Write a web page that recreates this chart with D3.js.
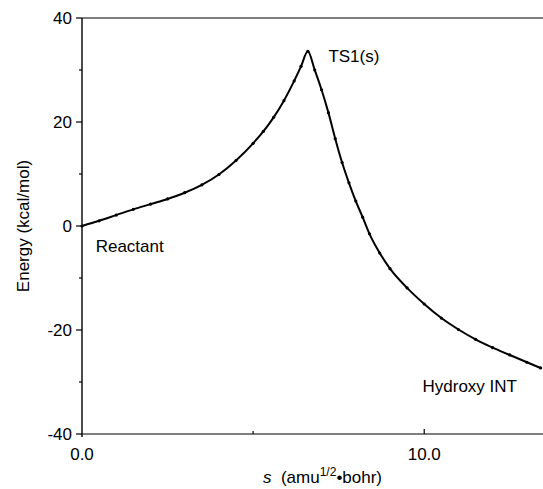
<!DOCTYPE html>
<html><head><meta charset="utf-8">
<script src="https://cdn.jsdelivr.net/npm/d3@7"></script>
<style>
html,body{margin:0;padding:0;background:#fff;}
svg{display:block;font-family:"Liberation Sans",Arial,Helvetica,sans-serif;}
</style></head>
<body><svg id="c" width="543" height="489"></svg>
<script>
const sValues = [0, 0.5, 1.0, 1.5, 2.0, 2.5, 3.0, 3.5, 4.0, 4.5, 5.0, 5.3, 5.6, 5.9, 6.2, 6.4, 6.6,
  6.8, 7.0, 7.2, 7.4, 7.6, 7.8, 8.0, 8.2, 8.4, 8.7, 9.0, 9.5, 10.0, 10.5, 11.0, 11.5, 12.0, 12.5, 13.0, 13.4];
const energyValues = [0, 1.0, 2.1, 3.2, 4.2, 5.2, 6.4, 7.9, 9.9, 12.6, 15.9, 18.2, 20.9, 24.1, 27.9, 30.7, 33.6,
  30.0, 26.2, 21.8, 16.8, 12.2, 8.3, 4.8, 1.7, -1.5, -5.2, -8.2, -11.9, -15.0, -17.7, -19.9, -21.8, -23.4, -24.8, -26.2, -27.3];
const yTicks = [-40, -20, 0, 20, 40];
const yMinorTicks = [-30, -10, 10, 30];
const xTicks = [0, 10];
const xMinorTicks = [5];
const labels = [
  {text: "TS1(s)", s: 7.2, e: 31.6},
  {text: "Reactant", s: 0.4, e: -5.0},
  {text: "Hydroxy INT", s: 9.95, e: -31.9}
];

const svg = d3.select("#c");
const x = d3.scaleLinear().domain([0, 13.5]).range([82, 544]);
const y = d3.scaleLinear().domain([-40, 40]).range([434, 18]);
const FS = 17;

// frame: top line, bottom axis, left axis
svg.append("line").attr("x1", x(0)).attr("x2", 543).attr("y1", y(40)).attr("y2", y(40))
  .attr("stroke", "#000").attr("stroke-width", 1.2);
svg.append("line").attr("x1", x(0)).attr("x2", 543).attr("y1", y(-40)).attr("y2", y(-40))
  .attr("stroke", "#000").attr("stroke-width", 1.2);
svg.append("line").attr("x1", x(0)).attr("x2", x(0)).attr("y1", y(40)).attr("y2", y(-40) + 3)
  .attr("stroke", "#000").attr("stroke-width", 1.4);

// y ticks (outward)
svg.selectAll(".ytk").data(yTicks).enter().append("line")
  .attr("x1", x(0) - 6).attr("x2", x(0)).attr("y1", d => y(d)).attr("y2", d => y(d))
  .attr("stroke", "#000").attr("stroke-width", 1.2);
svg.selectAll(".ytm").data(yMinorTicks).enter().append("line")
  .attr("x1", x(0) - 3).attr("x2", x(0)).attr("y1", d => y(d)).attr("y2", d => y(d))
  .attr("stroke", "#000").attr("stroke-width", 1.2);
svg.selectAll(".ytl").data(yTicks).enter().append("text")
  .attr("x", x(0) - 10).attr("y", d => y(d)).attr("dy", "0.36em")
  .attr("text-anchor", "end").attr("font-size", FS).text(d => d);

// x ticks (inward)
svg.selectAll(".xtk").data(xTicks.filter(d => d > 0)).enter().append("line")
  .attr("x1", d => x(d)).attr("x2", d => x(d)).attr("y1", y(-40)).attr("y2", y(-40) - 5)
  .attr("stroke", "#000").attr("stroke-width", 1.2);
svg.selectAll(".xtm").data(xMinorTicks).enter().append("line")
  .attr("x1", d => x(d)).attr("x2", d => x(d)).attr("y1", y(-40)).attr("y2", y(-40) - 3)
  .attr("stroke", "#000").attr("stroke-width", 1.2);
svg.selectAll(".xtl").data(xTicks).enter().append("text")
  .attr("x", d => x(d)).attr("y", y(-40) + 26)
  .attr("text-anchor", "middle").attr("font-size", FS).text(d => d.toFixed(1));

// axis titles
svg.append("text").attr("transform", `translate(29,${(y(40) + y(-40)) / 2}) rotate(-90)`)
  .attr("text-anchor", "middle").attr("font-size", FS).text("Energy (kcal/mol)");
const xt = svg.append("text").attr("x", 263).attr("y", 483).attr("font-size", FS);
xt.append("tspan").attr("font-style", "italic").text("s");
xt.append("tspan").text("\u00a0 (amu");
xt.append("tspan").attr("font-size", 12).attr("dy", -7).text("1/2");
xt.append("tspan").attr("dy", 7).text("\u2022bohr)");

// curve
const pts = sValues.map((s, i) => [s, energyValues[i]]);
const line = d3.line().x(d => x(d[0])).y(d => y(d[1])).curve(d3.curveMonotoneX);
svg.append("path").datum(pts).attr("d", line).attr("fill", "none")
  .attr("stroke", "#000").attr("stroke-width", 2);
svg.selectAll(".pt").data(pts).enter().append("circle")
  .attr("cx", d => x(d[0])).attr("cy", d => y(d[1])).attr("r", 1.6).attr("fill", "#000");

// labels
svg.selectAll(".lb").data(labels).enter().append("text")
  .attr("x", d => x(d.s)).attr("y", d => y(d.e)).attr("font-size", FS).text(d => d.text);
</script></body></html>
